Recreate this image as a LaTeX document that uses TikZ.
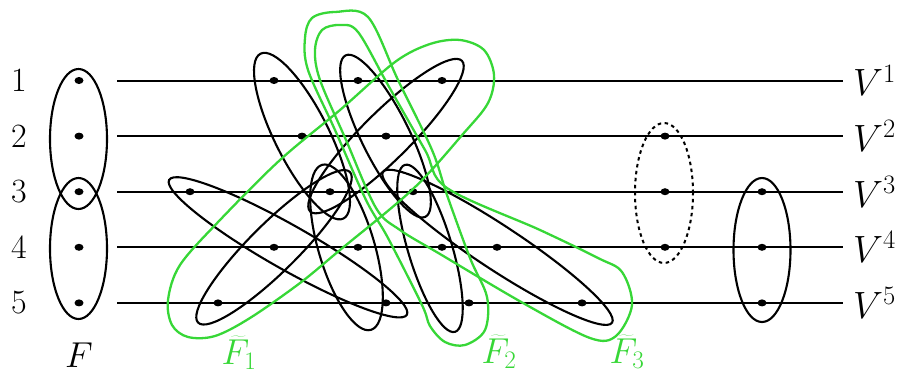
\RequirePackage{fix-cm}
\documentclass[tikz,border=0pt]{standalone}
\usetikzlibrary{calc,shapes.geometric}
\definecolor{hgreen}{RGB}{55,215,55}
\tikzset{
  hline/.style={line width=2pt},
  hyper/.style={line width=2.1pt},
  greenset/.style={draw=hgreen, line width=2.3pt},
  dottededge/.style={line width=2pt, dash pattern=on 3.5pt off 3.5pt},
  vdot/.style={ellipse, fill, inner sep=0pt, minimum width=9pt, minimum height=7pt},
  lab/.style={font=\fontsize{34}{40}\selectfont, inner sep=0pt},
  vlab/.style={font=\fontsize{38}{44}\selectfont, inner sep=0pt, anchor=west},
  flab/.style={font=\fontsize{36}{42}\selectfont, inner sep=0pt},
}
\newcommand\hedge[5][]{%
  \path let \p1=(#2), \p2=(#3) in \pgfextra{%
    \pgfmathsetmacro\hgAt{atan2(\y2-\y1,\x2-\x1)}%
    \pgfmathsetmacro\hgLt{veclen(\x2-\x1,\y2-\y1)/2+#4}%
    \pgfmathsetmacro\hgXt{(\x1+\x2)/2}%
    \pgfmathsetmacro\hgYt{(\y1+\y2)/2}%
    \xdef\hgA{\hgAt}\xdef\hgL{\hgLt}\xdef\hgX{\hgXt}\xdef\hgY{\hgYt}};
  \draw[hyper,#1,shift={(\hgX pt,\hgY pt)},rotate=\hgA] (0,0) ellipse ({\hgL pt} and {#5pt});
}
\begin{document}
\begin{tikzpicture}[x=1pt,y=-1pt]
\useasboundingbox (0,0) rectangle (901,381);
\def\ra{80.5}\def\rb{136.1}\def\rc{191.7}\def\rd{247.3}\def\re{302.9}
% horizontal lines
\foreach \r/\k in {\ra/1,\rb/2,\rc/3,\rd/4,\re/5}{
  \coordinate (s\k) at (117,\r);
  \coordinate (e\k) at (843,\r);
  \draw[hline] (s\k) -- (e\k);
}
% labels
\node[lab] (n1) at (19,\ra) {1};
\node[lab] (n2) at (19,\rb) {2};
\node[lab] (n3) at (19,\rc) {3};
\node[lab] (n4) at (19,\rd) {4};
\node[lab] (n5) at (19,\re) {5};
\node[vlab] (V1) at (853,\ra) {$V^1$};
\node[vlab] (V2) at (853,\rb) {$V^2$};
\node[vlab] (V3) at (853,\rc) {$V^3$};
\node[vlab] (V4) at (853,\rd) {$V^4$};
\node[vlab] (V5) at (853,\re) {$V^5$};
% F on the left
\foreach \k/\r in {1/\ra,2/\rb,3/\rc,4/\rd,5/\re}{\node[vdot] (f\k) at (79,\r) {};}
\draw[hyper] (78.5,139) ellipse (28.5pt and 70pt);
\draw[hyper] (78.5,248.5) ellipse (28.5pt and 70.5pt);
\node[flab] (Flab) at (79,355) {$F$};
% vertices
\node[vdot] (d1a) at (274,\ra) {};
\node[vdot] (d1b) at (358,\ra) {};
\node[vdot] (d1c) at (442,\ra) {};
\node[vdot] (d2a) at (302,\rb) {};
\node[vdot] (d2b) at (386,\rb) {};
\node[vdot] (d2c) at (665,\rb) {};
\node[vdot] (d3a) at (190,\rc) {};
\node[vdot] (d3b) at (330,\rc) {};
\node[vdot] (d3c) at (413,\rc) {};
\node[vdot] (d3d) at (665,\rc) {};
\node[vdot] (d3e) at (762,\rc) {};
\node[vdot] (d4a) at (274,\rd) {};
\node[vdot] (d4b) at (358,\rd) {};
\node[vdot] (d4c) at (442,\rd) {};
\node[vdot] (d4d) at (497,\rd) {};
\node[vdot] (d4e) at (665,\rd) {};
\node[vdot] (d4f) at (762,\rd) {};
\node[vdot] (d5a) at (218,\re) {};
\node[vdot] (d5b) at (386,\re) {};
\node[vdot] (d5c) at (469,\re) {};
\node[vdot] (d5d) at (582,\re) {};
\node[vdot] (d5e) at (762,\re) {};
\coordinate (c1) at (363,303);
\coordinate (c2) at (447,305);
% black edges
\hedge{d1a}{d3b}{30}{27}
\hedge{d1b}{d3c}{28}{24}
\hedge{d1c}{d3b}{28}{24}
\hedge{d3b}{c1}{28}{28}
\hedge{d3c}{c2}{28}{22}
\hedge{d3b}{d5a}{28}{24}
\hedge{d3a}{d5b}{24}{22}
\hedge{d3c}{d5d}{36}{22}
% right edges
\draw[dottededge] (664,193) ellipse (29pt and 70pt);
\draw[hyper] (762,250) ellipse (28.5pt and 72pt);
% green copies
\draw[greenset] plot[smooth cycle, tension=0.55] coordinates {
 (168,300) (172,325) (188,337) (215,336) (250,318) (300,283) (340,250)
 (413,189) (463,134) (488,103) (494,75) (484,50) (460,40) (430,44)
 (395,62) (340,110) (280,160) (220,220) (180,265)};
\draw[greenset] plot[smooth cycle, tension=0.55] coordinates {
 (305,38) (312,18) (335,12) (368,17) (398,80) (432,150) (447,195)
 (470,258) (487,297) (485,330) (465,345) (445,342) (430,326) (422,305)
 (388,238) (366,200) (335,130) (308,70)};
\draw[greenset] plot[smooth cycle, tension=0.55] coordinates {
 (315,50) (322,30) (340,25) (358,32) (388,85) (425,150) (447,188)
 (540,230) (598,258) (622,272) (632,305) (616,336) (590,338) (523,303)
 (440,254) (400,230) (376,208) (346,140) (320,80)};
\node[flab, text=hgreen] (G1) at (239,353) {$\widetilde{F}_1$};
\node[flab, text=hgreen] (G2) at (499,352) {$\widetilde{F}_2$};
\node[flab, text=hgreen] (G3) at (627,352) {$\widetilde{F}_3$};
\end{tikzpicture}
\end{document}
